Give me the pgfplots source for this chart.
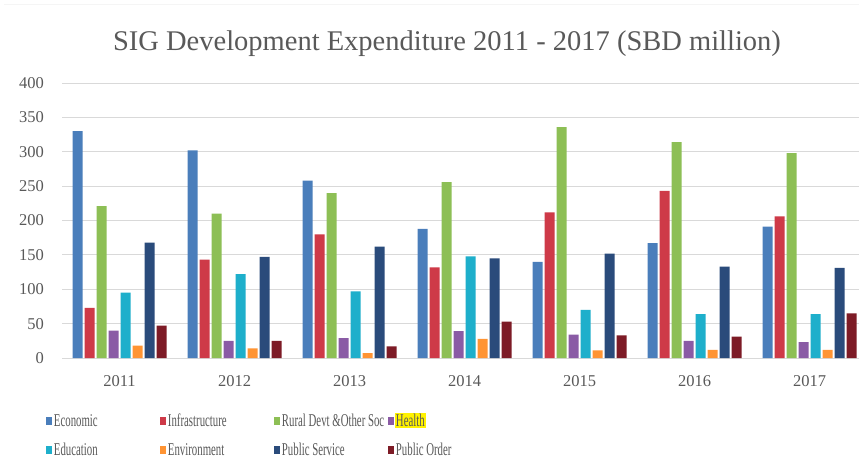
\documentclass[border=0pt]{standalone}
\usepackage{fontspec}
\setmainfont{Liberation Serif}
\newfontfamily\legfont[FakeStretch=0.6]{Liberation Serif}
\usepackage{pgfplots}
\usepackage{pgfplotstable}
\pgfplotsset{compat=1.18}
\definecolor{cEco}{HTML}{4A7EBB}
\definecolor{cInf}{HTML}{CE3A48}
\definecolor{cRur}{HTML}{8DBF55}
\definecolor{cHea}{HTML}{8A5BA5}
\definecolor{cEdu}{HTML}{1EAFCB}
\definecolor{cEnv}{HTML}{FF9433}
\definecolor{cPS}{HTML}{2A4B7B}
\definecolor{cPO}{HTML}{7D1B26}
\definecolor{txt}{HTML}{595959}
\definecolor{gridc}{HTML}{D9D9D9}
\pgfplotstableread{
x eco inf rur hea edu env ps po
0 330 73 221 40 95 18 168 47
1 302 143 210 25 122 14 147 25
2 258 180 240 29 97 7 162 17
3 188 132 256 39 148 28 145 53
4 140 212 336 34 70 11 152 33
5 167 243 314 25 64 12 133 31
6 191 206 298 23 64 12 131 65
}\datatable
\begin{document}
\begin{tikzpicture}
\useasboundingbox (0,0) rectangle (859pt,459pt);
\fill[white] (0,0) rectangle (859pt,459pt);
\draw[gray!8, line width=0.8pt] (4pt,455pt) -- (859pt,455pt);
\node[text=txt, font=\fontsize{28.5}{34}\selectfont] at (447pt,415pt) {SIG Development Expenditure 2011 - 2017 (SBD million)};
\begin{axis}[
  at={(62pt,101pt)}, anchor=south west,
  scale only axis, width=805pt, height=275pt,
  xmin=-0.5, xmax=6.5, ymin=0, ymax=400,
  ybar=2pt, bar width=10pt,
  xtick={0,1,2,3,4,5,6},
  xticklabels={2011,2012,2013,2014,2015,2016,2017},
  ytick={0,50,...,400},
  axis line style={draw=none},
  major tick length=0pt,
  ymajorgrids, grid style={gridc, line width=1pt},
  tick label style={font=\fontsize{16.5}{19}\selectfont, text=txt},
  /pgf/number format/assume math mode=true,
  yticklabel style={inner sep=0pt, xshift=-18pt},
  xticklabel style={inner sep=0pt, yshift=-17pt},
  legend columns=4,
  legend style={at={(axis description cs:-0.0199,-0.198)}, anchor=north west,
    draw=none, fill=none, inner sep=0pt, outer sep=0pt, row sep=13pt,
    font=\legfont\fontsize{18}{21}\selectfont, text=txt,
    nodes={inner sep=1pt}},
  legend image code/.code={\path[#1, draw=none] (0pt,-4pt) rectangle (6pt,4pt);},
]
\addplot[fill=cEco, draw=none] table[x=x, y=eco] {\datatable};
\addlegendentry{\makebox[106pt][l]{\hspace{1pt}Economic}}
\addplot[fill=cInf, draw=none] table[x=x, y=inf] {\datatable};
\addlegendentry{\makebox[106pt][l]{\hspace{1pt}Infrastructure}}
\addplot[fill=cRur, draw=none] table[x=x, y=rur] {\datatable};
\addlegendentry{\makebox[106pt][l]{\hspace{1pt}Rural Devt \&Other Soc}}
\addplot[fill=cHea, draw=none] table[x=x, y=hea] {\datatable};
\addlegendentry{\makebox[106pt][l]{\setlength{\fboxsep}{1pt}\colorbox{yellow}{Health}}}
\addplot[fill=cEdu, draw=none] table[x=x, y=edu] {\datatable};
\addlegendentry{\makebox[106pt][l]{\hspace{1pt}Education}}
\addplot[fill=cEnv, draw=none] table[x=x, y=env] {\datatable};
\addlegendentry{\makebox[106pt][l]{\hspace{1pt}Environment}}
\addplot[fill=cPS, draw=none] table[x=x, y=ps] {\datatable};
\addlegendentry{\makebox[106pt][l]{\hspace{1pt}Public Service}}
\addplot[fill=cPO, draw=none] table[x=x, y=po] {\datatable};
\addlegendentry{\makebox[106pt][l]{\hspace{1pt}Public Order}}
\end{axis}
\end{tikzpicture}
\end{document}
